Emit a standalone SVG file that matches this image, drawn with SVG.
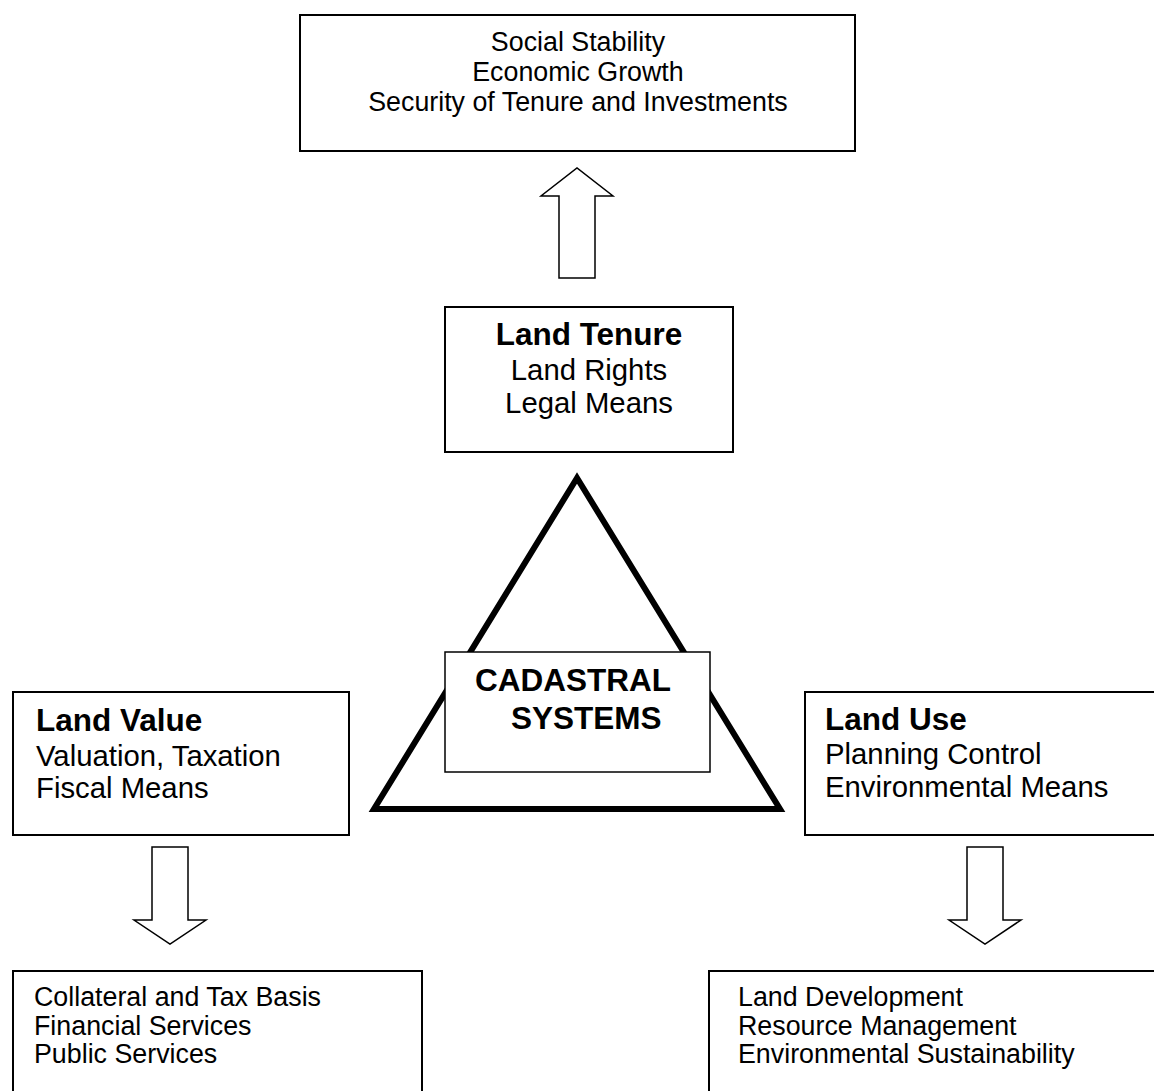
<svg xmlns="http://www.w3.org/2000/svg" width="1154" height="1091" viewBox="0 0 1154 1091">
  <style>
    .box { fill: #fff; stroke: #000; stroke-width: 2; }
    .arrow { fill: #fff; stroke: #000; stroke-width: 1.5; stroke-linejoin: miter; }
    .t { font-family: "Liberation Sans", Arial, sans-serif; fill: #000; }
    .reg { font-size: 29.3px; }
    .bold { font-size: 31.5px; font-weight: bold; }
    .small { font-size: 26.8px; }
    .mid { text-anchor: middle; }
  </style>
  <rect width="1154" height="1091" fill="#fff"/>

  <g id="connectors">
    <path class="arrow" d="M559,278 L559,196 L541,196 L577,168 L613,196 L595,196 L595,278 Z"/>
    <path class="arrow" d="M152,847 L188,847 L188,920 L206,920 L170,944 L134,920 L152,920 Z"/>
    <path class="arrow" d="M967,847 L1003,847 L1003,920 L1021,920 L985,944 L949,920 L967,920 Z"/>
  </g>

  <g id="outcomes-top">
    <rect class="box" x="300" y="15" width="555" height="136"/>
    <text class="t small mid" x="578" y="51">Social Stability</text>
    <text class="t small mid" x="578" y="81">Economic Growth</text>
    <text class="t small mid" x="578" y="111">Security of Tenure and Investments</text>
  </g>

  <g id="land-tenure">
    <rect class="box" x="445" y="307" width="288" height="145"/>
    <text class="t bold mid" x="589" y="345">Land Tenure</text>
    <text class="t reg mid" x="589" y="380">Land Rights</text>
    <text class="t reg mid" x="589" y="413">Legal Means</text>
  </g>

  <g id="triangle">
    <polygon points="577,478 374,809 780,809" fill="none" stroke="#000" stroke-width="6" stroke-linejoin="miter"/>
  </g>

  <g id="cadastral-systems">
    <rect x="445" y="652" width="265" height="120" fill="#fff" stroke="#000" stroke-width="1.5"/>
    <text class="t bold" x="475" y="691">CADASTRAL</text>
    <text class="t bold" x="511" y="729">SYSTEMS</text>
  </g>

  <g id="land-value">
    <rect class="box" x="13" y="692" width="336" height="143"/>
    <text class="t bold" x="36" y="731">Land Value</text>
    <text class="t reg" x="36" y="766">Valuation, Taxation</text>
    <text class="t reg" x="36" y="798">Fiscal Means</text>
  </g>

  <g id="land-use">
    <rect class="box" x="805" y="692" width="360" height="143"/>
    <text class="t bold" x="825" y="730">Land Use</text>
    <text class="t reg" x="825" y="764">Planning Control</text>
    <text class="t reg" x="825" y="797">Environmental Means</text>
  </g>

  <g id="outcomes-value">
    <rect class="box" x="13" y="971" width="409" height="140"/>
    <text class="t small" x="34" y="1006">Collateral and Tax Basis</text>
    <text class="t small" x="34" y="1035">Financial Services</text>
    <text class="t small" x="34" y="1063">Public Services</text>
  </g>

  <g id="outcomes-use">
    <rect class="box" x="709" y="971" width="460" height="140"/>
    <text class="t small" x="738" y="1006">Land Development</text>
    <text class="t small" x="738" y="1035">Resource Management</text>
    <text class="t small" x="738" y="1063">Environmental Sustainability</text>
  </g>
</svg>
